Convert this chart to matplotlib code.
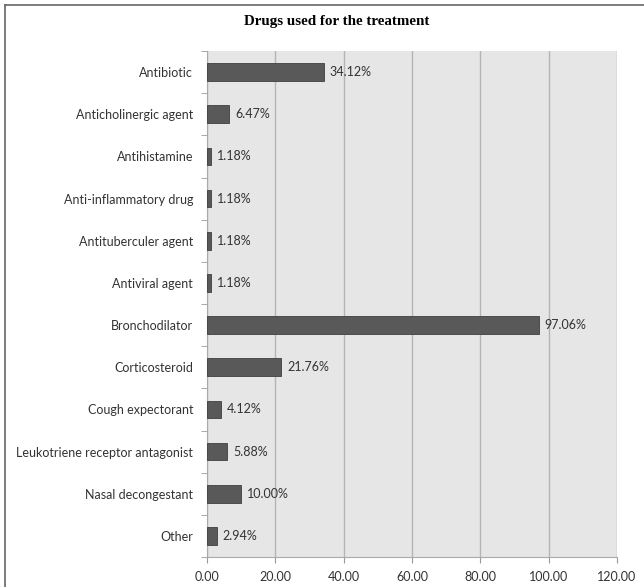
import matplotlib
matplotlib.use('Agg')
import numpy as np
from matplotlib import pyplot as plt
from matplotlib.lines import Line2D

drugs = ['Antibiotic', 'Anticholinergic agent', 'Antihistamine',
         'Anti-inflammatory drug', 'Antituberculer agent', 'Antiviral agent',
         'Bronchodilator', 'Corticosteroid', 'Cough expectorant',
         'Leukotriene receptor antagonist', 'Nasal decongestant', 'Other']
percent = [34.12, 6.47, 1.18, 1.18, 1.18, 1.18, 97.06, 21.76, 4.12, 5.88, 10.00, 2.94]
xticks = [0, 20, 40, 60, 80, 100, 120]

plt.rcParams['font.family'] = ['Lato', 'DejaVu Sans']

fig = plt.figure(figsize=(6.44, 5.87), dpi=100)
ax = fig.add_axes([207/644, 1 - 557/587, (617 - 207)/644, (557 - 51)/587])

y = np.arange(len(drugs))
ax.barh(y, percent, height=0.42, color='#595959', edgecolor='#3f3f3f', linewidth=0.6, zorder=3)
for yi, v in zip(y, percent):
    ax.text(v + 1.7, yi, f'{v:.2f}%', va='center', ha='left', fontsize=9, color='#333333', zorder=4)

ax.set_facecolor('#e6e6e6')
ax.set_xlim(0, 120)
ax.set_ylim(len(drugs) - 0.5, -0.5)
ax.set_xticks(xticks)
ax.set_xticklabels([f'{t:.2f}' for t in xticks], fontsize=9, color='#333333')
ax.set_yticks(y)
ax.set_yticklabels(drugs, fontsize=9, color='#333333')
ax.set_yticks(np.arange(len(drugs) + 1) - 0.5, minor=True)
ax.tick_params(axis='y', which='major', length=0, pad=10)
ax.tick_params(axis='y', which='minor', length=4, color='#999999')
ax.tick_params(axis='x', length=4, color='#999999', pad=6)
ax.xaxis.grid(True, color='#b4b4b4', linewidth=1.0, zorder=0)
ax.set_axisbelow(True)
for side in ['top', 'right']:
    ax.spines[side].set_visible(False)
ax.spines['left'].set_color('#aaaaaa')
ax.spines['bottom'].set_color('#aaaaaa')

fig.text(337/644, 1 - 22/587, 'Drugs used for the treatment', ha='center', va='center',
         fontsize=10.8, fontweight='bold', family='Liberation Serif')

# outer frame
fig.add_artist(Line2D([5/644, 1], [1 - 5/587, 1 - 5/587], color='#666666', linewidth=1.2))
fig.add_artist(Line2D([5/644, 5/644], [0, 1 - 5/587], color='#666666', linewidth=1.2))

fig.savefig('out.png', dpi=100)
